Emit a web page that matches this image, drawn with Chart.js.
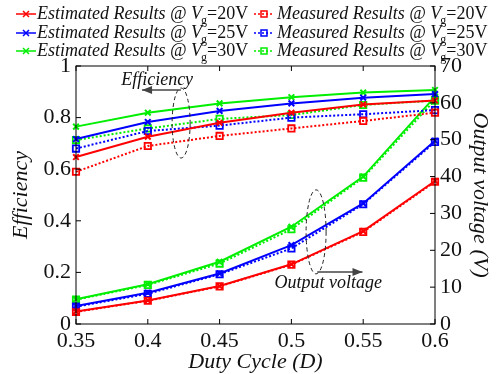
<!DOCTYPE html>
<html><head><meta charset="utf-8">
<script src="https://cdn.jsdelivr.net/npm/chart.js@4/dist/chart.umd.min.js"></script>
<style>html,body{margin:0;padding:0;background:#fff}#wrap{width:496px;height:374px;position:relative}</style>
</head><body><div id="wrap"><canvas id="c" width="496" height="374"></canvas></div>
<script>
const dutyCycle = ['0.35','0.4','0.45','0.5','0.55','0.6'];
const gateVoltages = ['20V','25V','30V'];
const seriesColors = ['#ff0000','#0000ff','#00ee00'];
// Efficiency (left axis)
const effEst20 = [0.647,0.726,0.780,0.819,0.851,0.866];
const effEst25 = [0.717,0.783,0.826,0.855,0.877,0.891];
const effEst30 = [0.765,0.819,0.855,0.879,0.897,0.907];
const effMeas20 = [0.590,0.690,0.729,0.758,0.787,0.819];
const effMeas25 = [0.680,0.748,0.769,0.800,0.813,0.829];
const effMeas30 = [0.713,0.758,0.795,0.810,0.849,0.866];
// Output voltage (right axis, V)
const voutEst20 = [3.4,6.4,10.3,16.2,25.2,38.8];
const voutEst25 = [4.9,8.5,13.7,21.4,32.7,49.7];
const voutEst30 = [6.7,10.8,16.9,26.4,40.0,61.7];
const voutMeas20 = [3.3,6.3,10.2,16.1,25.0,38.6];
const voutMeas25 = [4.7,8.2,13.5,20.5,32.5,49.4];
const voutMeas30 = [6.6,10.6,16.4,25.7,39.7,60.8];
const leftTicks = [0,0.2,0.4,0.6,0.8,1];
const rightTicks = [0,10,20,30,40,50,60,70];

const SERIF = '"Liberation Serif", "Times New Roman", serif';

function est(label, data, color, axis, legend) {
  return {label, data, yAxisID: axis, borderColor: color, backgroundColor: color,
    borderWidth: 2, pointStyle: 'crossRot', pointRadius: 4, pointBorderWidth: 2,
    tension: 0, fill: false, showInLegend: legend};
}
function meas(label, data, color, axis, legend) {
  return {label, data, yAxisID: axis, borderColor: color, backgroundColor: 'rgba(0,0,0,0)',
    borderWidth: 2, borderDash: [2,2], pointStyle: 'rect', pointRadius: 4.5, pointBorderWidth: 1.8,
    tension: 0, fill: false, showInLegend: legend};
}
const effEst = [effEst20, effEst25, effEst30];
const effMeas = [effMeas20, effMeas25, effMeas30];
const voutEst = [voutEst20, voutEst25, voutEst30];
const voutMeas = [voutMeas20, voutMeas25, voutMeas30];
const datasets = [];
for (let i = 0; i < 3; i++) datasets.push(est('Estimated Results @ Vg=' + gateVoltages[i], effEst[i], seriesColors[i], 'y', true));
for (let i = 0; i < 3; i++) datasets.push(meas('Measured Results @ Vg=' + gateVoltages[i], effMeas[i], seriesColors[i], 'y', true));
for (let i = 0; i < 3; i++) datasets.push(est('Estimated Vout @ Vg=' + gateVoltages[i], voutEst[i], seriesColors[i], 'y2', false));
for (let i = 0; i < 3; i++) datasets.push(meas('Measured Vout @ Vg=' + gateVoltages[i], voutMeas[i], seriesColors[i], 'y2', false));

function drawArrow(ctx, x1, y1, x2, y2) {
  ctx.beginPath(); ctx.moveTo(x1, y1); ctx.lineTo(x2, y2); ctx.stroke();
  const a = Math.atan2(y2 - y1, x2 - x1), L = 10, W = 4;
  ctx.beginPath();
  ctx.moveTo(x2, y2);
  ctx.lineTo(x2 - L*Math.cos(a) + W*Math.sin(a), y2 - L*Math.sin(a) - W*Math.cos(a));
  ctx.lineTo(x2 - L*Math.cos(a) - W*Math.sin(a), y2 - L*Math.sin(a) + W*Math.cos(a));
  ctx.closePath(); ctx.fill();
}

const decor = {
  id: 'decor',
  afterDraw(chart) {
    const ctx = chart.ctx, a = chart.chartArea;
    const xs = chart.scales.x, ys = chart.scales.y, y2 = chart.scales.y2;
    ctx.save();
    // frame
    ctx.strokeStyle = '#000'; ctx.lineWidth = 1;
    ctx.strokeRect(a.left, a.top, a.right - a.left, a.bottom - a.top);
    // inward ticks
    const T = 5;
    ctx.beginPath();
    dutyCycle.forEach((d, i) => {
      const px = xs.getPixelForValue(i);
      ctx.moveTo(px, a.bottom); ctx.lineTo(px, a.bottom - T);
      ctx.moveTo(px, a.top); ctx.lineTo(px, a.top + T);
    });
    leftTicks.forEach(v => { const py = ys.getPixelForValue(v); ctx.moveTo(a.left, py); ctx.lineTo(a.left + T, py); });
    rightTicks.forEach(v => { const py = y2.getPixelForValue(v); ctx.moveTo(a.right, py); ctx.lineTo(a.right - T, py); });
    ctx.stroke();

    // annotations (data coordinates)
    const px = v => a.left + (v - 0.35) / 0.25 * (a.right - a.left);
    ctx.strokeStyle = '#222'; ctx.fillStyle = '#444'; ctx.lineWidth = 1;
    ctx.setLineDash([4,3]);
    ctx.beginPath();
    ctx.ellipse(px(0.4232), ys.getPixelForValue(0.779), 9, 35, 0, 0, Math.PI*2);
    ctx.stroke();
    ctx.beginPath();
    ctx.ellipse(px(0.5172), y2.getPixelForValue(25.0), 10, 42, 0, 0, Math.PI*2);
    ctx.stroke();
    ctx.setLineDash([]);
    ctx.lineWidth = 1.5; ctx.strokeStyle = '#444';
    drawArrow(ctx, px(0.423), ys.getPixelForValue(0.907), px(0.396), ys.getPixelForValue(0.907));
    drawArrow(ctx, px(0.518), y2.getPixelForValue(14.1), px(0.5495), y2.getPixelForValue(14.1));
    ctx.fillStyle = '#111';
    ctx.font = 'italic 18px ' + SERIF;
    ctx.textAlign = 'center'; ctx.textBaseline = 'middle';
    ctx.fillText('Efficiency', px(0.4065), ys.getPixelForValue(0.945));
    ctx.fillText('Output voltage', px(0.5257), y2.getPixelForValue(11.0));

    // legend
    const rows = [14, 33, 51];
    const cols = [{lx1: 16, lx2: 36, tx: 37, kind: 'est', word: 'Estimated'}, {lx1: 254, lx2: 274, tx: 277, kind: 'meas', word: 'Measured'}];
    cols.forEach(c => {
      rows.forEach((ry, i) => {
        const col = seriesColors[i];
        ctx.strokeStyle = col; ctx.lineWidth = 1.5;
        if (c.kind === 'meas') ctx.setLineDash([2,2]); else ctx.setLineDash([]);
        ctx.beginPath(); ctx.moveTo(c.lx1, ry); ctx.lineTo(c.lx2, ry); ctx.stroke();
        ctx.setLineDash([]);
        const mx = (c.lx1 + c.lx2) / 2;
        ctx.beginPath();
        if (c.kind === 'est') {
          ctx.moveTo(mx-3, ry-3); ctx.lineTo(mx+3, ry+3); ctx.moveTo(mx+3, ry-3); ctx.lineTo(mx-3, ry+3);
          ctx.stroke();
        } else {
          ctx.strokeRect(mx-3, ry-3, 6, 6);
        }
        ctx.fillStyle = '#111'; ctx.textAlign = 'left'; ctx.textBaseline = 'middle';
        let x = c.tx;
        ctx.font = 'italic 18px ' + SERIF;
        const s1 = c.word + ' Results @ V';
        ctx.fillText(s1, x, ry); x += ctx.measureText(s1).width;
        ctx.font = '12px ' + SERIF;
        ctx.fillText('g', x - 1, ry + 7); x += ctx.measureText('g').width - 1;
        ctx.font = '18px ' + SERIF;
        ctx.fillText('=' + gateVoltages[i], x, ry);
      });
    });
    ctx.restore();
  }
};

const fmt = v => String(+(+v).toFixed(2));

new Chart(document.getElementById('c'), {
  type: 'line',
  data: {labels: dutyCycle, datasets},
  options: {
    responsive: false, animation: false,
    layout: {padding: {top: 66, left: 0, right: 0, bottom: 0}},
    plugins: {legend: {display: false}, tooltip: {enabled: false}},
    scales: {
      x: {type: 'category', offset: false,
        grid: {display: false, drawTicks: false}, border: {display: false},
        ticks: {color: '#111', font: {family: SERIF, size: 22}, padding: 4, maxRotation: 0, autoSkip: false},
        title: {display: true, text: 'Duty Cycle (D)', color: '#111', font: {family: SERIF, size: 22, style: 'italic'}, padding: {top: 0, bottom: -1}},
        afterFit: s => { s.height = 50; }
      },
      y: {position: 'left', min: 0, max: 1,
        afterBuildTicks: s => { s.ticks = leftTicks.map(v => ({value: v})); },
        grid: {display: false, drawTicks: false}, border: {display: false},
        ticks: {color: '#111', font: {family: SERIF, size: 22}, padding: 5, callback: fmt},
        title: {display: true, text: 'Efficiency', color: '#111', font: {family: SERIF, size: 22, style: 'italic'}, padding: {top: 8, bottom: 0}},
        afterFit: s => { s.width = 76; }
      },
      y2: {position: 'right', min: 0, max: 70,
        afterBuildTicks: s => { s.ticks = rightTicks.map(v => ({value: v})); },
        grid: {display: false, drawTicks: false}, border: {display: false},
        ticks: {color: '#111', font: {family: SERIF, size: 22}, padding: 5, callback: fmt},
        title: {display: true, text: 'Output voltage (V)', color: '#111', font: {family: SERIF, size: 22, style: 'italic'}, padding: {top: 3, bottom: 0}},
        afterFit: s => { s.width = 61; }
      }
    }
  },
  plugins: [decor]
});
</script></body></html>
